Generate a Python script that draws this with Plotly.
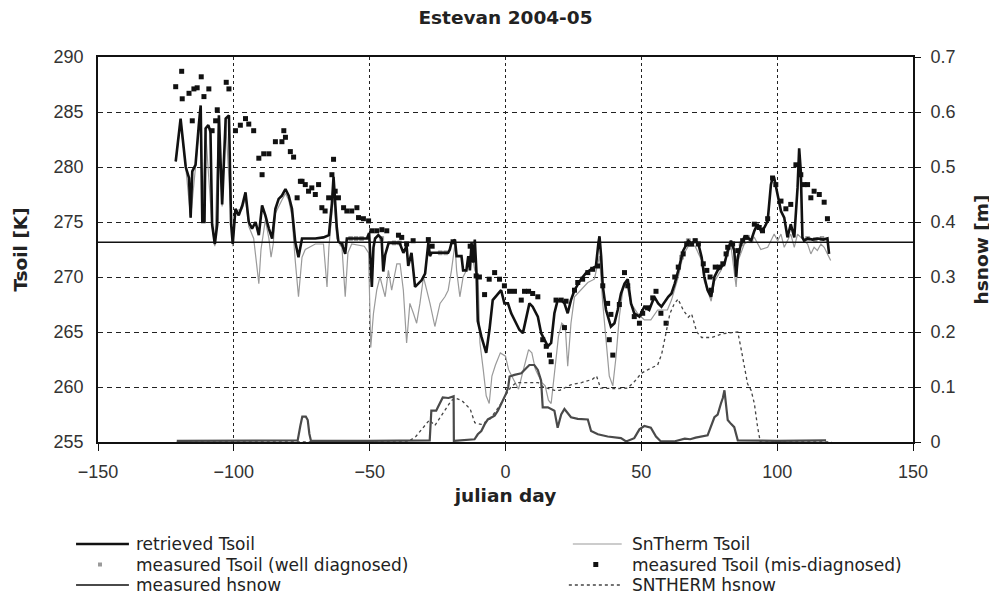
import plotly.graph_objects as go

# ---------------- data ----------------
retrieved_day = [-121.4,-120.5,-119.6,-119.0,-117.7,-116.5,-115.9,-115.3,-114.1,-112.9,-112.2,-111.6,-110.8,-110.4,-109.4,-108.6,-108.0,-107.0,-106.1,-105.5,-104.3,-103.0,-101.8,-101.0,-100.4,-99.4,-98.2,-96.9,-95.7,-94.5,-93.3,-92.0,-90.8,-89.6,-88.4,-87.1,-85.9,-84.7,-83.5,-82.3,-81.0,-79.8,-78.6,-77.4,-76.2,-74.9,-73.7,-70.0,-67.0,-65.0,-63.9,-63.3,-62.1,-61.5,-60.2,-59.0,-58.4,-55.0,-51.0,-50.2,-49.6,-49.2,-48.6,-48.0,-46.8,-45.6,-45.0,-44.3,-43.0,-39.0,-37.6,-36.4,-35.8,-34.6,-33.3,-32.1,-30.9,-29.6,-29.0,-28.4,-27.8,-27.2,-21.1,-20.5,-19.9,-18.6,-18.0,-16.2,-15.6,-14.4,-13.7,-13.1,-12.5,-11.9,-11.3,-10.6,-10.2,-8.9,-7.1,-5.9,-4.7,-2.8,-1.6,-0.4,0.9,2.1,3.3,5.1,6.4,7.6,8.8,10.0,11.9,13.1,14.3,15.6,16.8,18.0,19.2,20.5,21.7,22.9,24.1,25.4,27.8,29.7,31.5,33.3,34.2,34.6,35.2,35.8,37.0,38.8,40.1,41.3,42.5,43.8,45.0,46.2,47.4,49.3,51.1,52.9,54.8,56.2,57.4,59.9,61.1,62.3,63.6,64.8,65.4,66.7,67.3,68.5,69.8,71.0,72.2,73.2,74.4,75.7,76.9,78.1,79.3,80.6,81.8,83.0,84.2,84.9,85.5,86.7,87.9,89.1,90.4,91.6,92.8,94.0,95.3,96.5,97.7,98.3,98.9,100.2,101.4,102.6,103.8,105.0,106.3,107.5,108.1,108.7,109.3,109.9,111.2,113.0,115.0,117.0,118.5,119.1]
retrieved_T = [280.5,282.5,284.4,283.0,280.0,279.0,275.4,279.6,280.2,283.8,285.6,275.0,275.0,283.5,283.8,283.2,274.8,273.0,274.8,284.7,276.6,284.4,284.7,274.8,273.0,276.2,275.6,276.5,277.7,275.0,274.4,275.0,273.8,276.5,275.6,274.4,273.5,276.2,277.1,277.4,278.0,277.4,276.2,273.2,271.8,273.5,273.5,273.5,273.6,273.8,276.7,279.1,274.5,273.2,273.0,272.1,273.5,273.5,273.5,274.0,270.3,269.1,272.7,273.5,273.8,273.5,270.5,272.0,273.1,273.1,272.2,272.8,271.0,272.2,269.1,269.4,269.7,270.3,272.1,273.1,271.9,272.2,272.2,272.5,273.1,273.4,271.9,271.9,270.6,270.6,271.9,270.6,273.1,271.3,273.4,270.0,266.0,264.6,263.1,265.2,267.9,268.5,268.8,267.6,267.6,266.7,266.1,265.2,264.9,266.4,267.6,267.3,266.4,264.9,264.3,263.7,264.0,266.7,267.9,267.9,267.6,266.7,267.9,268.8,269.8,270.4,270.7,271.0,273.1,273.7,271.9,269.2,267.0,265.5,265.8,267.0,268.5,269.4,269.8,267.6,266.7,266.4,267.3,267.0,268.2,267.6,267.3,268.2,268.5,269.4,270.6,271.8,272.4,273.0,273.3,273.0,273.3,273.0,271.8,270.0,268.8,268.2,270.0,270.6,270.9,271.2,272.4,273.3,272.4,270.0,271.8,273.0,273.6,273.6,273.3,274.2,274.8,274.2,274.5,275.1,278.4,279.0,279.0,277.5,276.0,275.4,273.6,274.8,273.6,278.1,281.7,279.6,273.6,273.3,273.5,273.4,273.5,273.4,273.5,272.1]

sntherm_day = [-121.4,-119.6,-117.7,-115.9,-114.1,-112.2,-111.6,-110.4,-108.0,-107.0,-105.5,-104.3,-103.0,-101.0,-100.4,-99.4,-96.9,-95.7,-94.5,-92.7,-91.4,-90.8,-90.0,-88.4,-87.1,-86.3,-85.5,-84.7,-82.3,-81.0,-79.8,-78.6,-77.4,-76.2,-74.9,-73.7,-70.0,-67.0,-65.7,-65.0,-63.3,-62.1,-60.2,-59.0,-58.0,-56.6,-52.0,-50.4,-49.6,-48.6,-47.4,-46.2,-44.3,-43.1,-41.9,-40.0,-38.8,-37.6,-36.4,-35.2,-33.9,-32.7,-31.5,-30.2,-29.0,-27.8,-26.0,-24.1,-22.3,-21.1,-19.9,-18.6,-18.0,-16.8,-15.6,-14.4,-12.5,-11.3,-10.1,-9.4,-8.2,-7.1,-6.0,-5.0,-3.7,-1.9,0.0,1.1,2.3,3.5,4.8,6.0,7.2,8.5,9.7,11.0,12.2,13.4,14.6,15.8,16.8,18.3,19.5,20.7,22.0,22.9,24.1,25.4,27.8,30.3,32.7,34.6,35.8,37.0,38.2,39.5,40.7,41.9,43.2,44.4,46.2,48.6,51.1,53.5,56.0,59.6,61.1,63.6,65.4,67.3,69.8,72.2,73.2,75.7,76.9,79.3,81.8,83.0,84.9,85.5,87.9,91.6,94.0,96.5,97.7,98.9,100.2,101.4,102.6,103.8,105.0,106.3,107.5,108.7,111.2,112.4,113.6,114.8,116.1,117.3,118.5,119.7]
sntherm_T = [280.5,284.0,280.0,275.4,280.0,285.2,275.0,283.3,274.6,272.8,284.5,276.4,284.2,274.6,272.8,276.0,276.2,277.2,274.6,273.5,270.5,269.4,272.5,275.2,273.5,271.8,273.0,275.8,277.0,277.6,277.0,275.5,271.5,268.2,271.8,272.5,273.0,273.0,269.1,272.7,277.5,273.5,272.7,268.2,272.2,273.0,272.8,272.2,263.6,266.7,268.8,270.0,268.2,270.6,268.8,271.2,271.2,268.8,264.0,267.6,266.7,265.8,267.6,270.0,268.8,267.6,265.5,267.6,268.2,268.8,270.6,273.0,270.6,268.2,270.0,270.6,272.4,270.6,270.0,264.0,261.6,259.2,258.5,261.0,262.0,263.1,262.8,261.6,261.0,260.4,259.8,261.0,262.2,263.4,263.1,261.6,261.0,260.4,260.1,258.8,258.5,262.2,264.6,265.8,265.5,261.9,265.8,268.2,268.8,269.5,269.8,271.9,267.6,264.0,261.0,260.1,262.8,266.4,268.8,269.5,267.6,266.7,266.1,266.1,267.0,267.0,267.9,270.0,272.0,272.8,272.8,271.5,269.6,267.8,269.6,270.6,272.0,272.8,269.1,271.4,273.0,273.6,272.5,272.7,273.3,273.9,273.3,273.9,272.7,273.3,273.9,272.7,273.9,273.6,273.0,272.1,272.7,272.4,273.0,272.7,272.1,271.5]

well_day = [-60.2,-57.0,-55.0,-53.0,-45.6,-41.0,-39.0,-24.0,-22.0,64.8,67.3,70.0,86.7,89.1,90.4,111.2,114.0,116.5]
well_T = [273.0,273.5,273.5,273.5,273.5,273.1,273.1,272.2,272.2,271.8,273.3,273.3,273.0,273.6,273.3,273.5,273.4,273.5]

mis_day = [-121.4,-119.2,-119.0,-116.5,-115.3,-114.7,-113.5,-112.0,-111.0,-109.2,-108.0,-106.7,-106.1,-102.8,-101.8,-99.4,-97.6,-95.7,-94.5,-92.7,-90.8,-89.6,-89.0,-87.1,-84.7,-82.3,-81.6,-81.0,-79.2,-78.0,-76.7,-75.5,-74.9,-73.7,-72.5,-71.3,-70.0,-68.8,-67.6,-66.4,-65.1,-63.9,-63.3,-62.7,-61.5,-59.6,-58.4,-56.6,-54.7,-54.1,-52.3,-50.4,-49.2,-47.4,-45.5,-43.7,-39.4,-38.2,-36.4,-34.0,-28.4,-27.0,-19.3,-13.0,-10.8,-9.6,-7.7,-6.0,-4.0,-2.2,-0.4,1.5,3.3,5.8,7.0,8.5,10.0,11.9,13.7,15.0,16.2,16.8,18.6,20.5,21.7,22.3,25.4,26.6,28.4,30.3,32.1,33.9,35.8,37.6,38.2,38.8,39.5,41.9,43.8,45.0,47.4,49.3,50.5,52.3,54.2,55.4,57.2,59.1,62.3,63.6,65.4,66.7,68.5,69.8,71.0,72.8,74.1,75.3,75.7,77.2,78.7,80.0,81.2,81.8,83.6,85.5,87.3,88.5,91.6,93.4,94.6,96.5,98.3,99.5,101.4,103.2,105.0,106.9,108.7,109.9,111.2,112.4,113.6,115.5,117.3,118.5]
mis_T = [287.3,288.7,286.2,286.7,284.2,287.1,287.2,288.2,286.4,287.1,283.3,284.2,285.2,287.7,287.1,283.3,283.8,284.4,283.9,283.3,280.8,279.3,281.2,281.2,282.3,282.3,283.3,282.7,281.4,280.9,277.2,278.7,278.7,278.4,277.8,278.1,277.5,278.4,276.3,276.0,277.2,279.3,280.7,277.8,277.2,276.3,276.0,276.0,276.3,275.4,275.3,275.1,274.2,274.2,274.3,274.2,273.8,273.6,273.0,273.3,273.4,272.8,273.2,272.8,270.1,270.0,268.4,269.8,270.4,269.8,269.2,268.7,268.7,267.9,268.7,268.7,268.5,268.2,264.3,263.7,262.9,262.3,267.9,267.9,265.4,267.8,268.8,269.5,269.8,270.4,270.7,271.0,269.2,267.6,264.3,266.6,262.9,267.5,270.4,269.2,266.4,265.8,266.7,267.2,268.1,268.7,266.7,265.8,270.0,270.9,272.1,273.0,273.0,273.3,273.0,271.2,270.6,270.0,268.8,270.9,270.9,271.2,272.1,272.7,273.0,272.4,273.3,273.6,274.8,274.5,274.2,275.3,279.0,278.4,276.9,276.2,276.6,280.2,279.3,278.4,278.4,277.2,277.8,277.5,276.8,275.3]

hsnow_meas_day = [-121,-100,-80,-76.5,-75.5,-74.8,-73.5,-72.8,-72.2,-71.6,-50,-30,-27.9,-27.3,-25.5,-24.9,-23.7,-23.1,-21.0,-19.6,-19.1,-19.0,-12,-11.4,-10.2,-8.9,-7.7,-6.5,-4.0,-2.8,-1.6,0.2,1.0,1.5,3.3,5.8,7.6,8.8,10.6,11.9,13.1,13.7,15.6,18.0,19.2,20.5,21.7,24.1,26.6,30.3,31.5,34,37.6,42.5,44.4,47.4,49.3,51.1,53.5,55.4,57.2,62,66,68,70,72,74.4,76.9,78.1,79.3,80.0,80.6,81.2,81.8,83.0,84.2,85.5,100,118]
hsnow_meas = [0.002,0.002,0.002,0.003,0.03,0.046,0.046,0.04,0.015,0.002,0.002,0.002,0.003,0.057,0.057,0.063,0.075,0.081,0.08,0.083,0.083,0.002,0.004,0.005,0.014,0.02,0.032,0.041,0.048,0.057,0.069,0.088,0.1,0.119,0.122,0.125,0.134,0.14,0.14,0.131,0.112,0.063,0.063,0.057,0.026,0.05,0.06,0.045,0.042,0.041,0.02,0.014,0.01,0.007,0.001,0.007,0.023,0.029,0.026,0.01,0.001,0.001,0.006,0.005,0.008,0.01,0.012,0.045,0.05,0.07,0.08,0.094,0.06,0.04,0.033,0.027,0.003,0.002,0.003]

hsnow_sn_day = [-121,-36,-33,-30,-28,-26,-24,-22,-20,-18.5,-16,-13,-11.3,-9,-6,-3,-1,0,2,4,8,12,14,18,20,24,28,32,33.5,35,40,45,47.5,50,53,56,57.5,59,60.5,62,63.5,65.4,67.3,68.5,70.4,72.2,76,80,85.5,86.7,88,89.1,90.4,91.6,92.8,93.8,120]
hsnow_sn = [0.0,0.0,0.01,0.028,0.04,0.03,0.045,0.06,0.075,0.08,0.075,0.06,0.035,0.032,0.04,0.06,0.075,0.085,0.1,0.108,0.108,0.108,0.1,0.094,0.094,0.104,0.108,0.114,0.12,0.098,0.097,0.098,0.11,0.125,0.133,0.14,0.16,0.2,0.233,0.25,0.26,0.24,0.227,0.233,0.2,0.19,0.19,0.197,0.2,0.17,0.136,0.106,0.094,0.07,0.027,0.0,0.0]

T_FREEZE = 273.15
x_ticks = [-150, -100, -50, 0, 50, 100, 150]
y_ticks = [255, 260, 265, 270, 275, 280, 285, 290]
y2_ticks = [0, 0.1, 0.2, 0.3, 0.4, 0.5, 0.6, 0.7]
y2_ticktext = ["0", "0.1", "0.2", "0.3", "0.4", "0.5", "0.6", "0.7"]

# ---------------- layout geometry ----------------
# page body adds an 8 px offset; window-pixel plot box of the reference:
OFF = 8
PL, PR, PT, PB = 96, 913, 57, 442
W, H = 997, 610
ML, MT = PL - OFF, PT - OFF
MR = W - (PR - OFF)
MB = H - (PB - OFF)

TICK_FONT = dict(family="Liberation Sans, Arial, sans-serif", size=18, color="#333333")
BOLD_FONT = dict(family="DejaVu Sans, sans-serif", size=18.5, color="#222222", weight="bold")
LEG_FONT = dict(family="DejaVu Sans, sans-serif", size=17, color="#222222")

RET_LINE = dict(color="#111111", width=2.6)
SNT_LINE = dict(color="#9a9a9a", width=1.2)
HM_LINE = dict(color="#4a4a4a", width=2.2)
HS_LINE = dict(color="#444444", width=1.3, dash="dot")
MIS_MARK = dict(symbol="square", size=5, color="#111111")
WELL_MARK = dict(symbol="square", size=4, color="#9a9a9a", line=dict(color="#777777", width=0.5))

fig = go.Figure()
fig.add_trace(go.Scatter(x=hsnow_sn_day, y=hsnow_sn, mode="lines", line=HS_LINE,
                         name="SNTHERM hsnow", yaxis="y2", showlegend=False))
fig.add_trace(go.Scatter(x=hsnow_meas_day, y=hsnow_meas, mode="lines", line=HM_LINE,
                         name="measured hsnow", yaxis="y2", showlegend=False))
fig.add_trace(go.Scatter(x=sntherm_day, y=sntherm_T, mode="lines", line=SNT_LINE,
                         name="SnTherm Tsoil", showlegend=False))
fig.add_trace(go.Scatter(x=well_day, y=well_T, mode="markers", marker=WELL_MARK,
                         name="measured Tsoil (well diagnosed)", showlegend=False))
fig.add_trace(go.Scatter(x=retrieved_day, y=retrieved_T, mode="lines", line=RET_LINE,
                         name="retrieved Tsoil", showlegend=False))
fig.add_trace(go.Scatter(x=mis_day, y=mis_T, mode="markers", marker=MIS_MARK,
                         name="measured Tsoil (mis-diagnosed)", showlegend=False))

shapes = [dict(type="line", xref="paper", x0=0, x1=1, yref="y", y0=T_FREEZE, y1=T_FREEZE,
               line=dict(color="#111111", width=1.5))]
annotations = []


def px_x(p):
    return (p - PL) / (PR - PL)


def px_y(p):
    return (PB - p) / (PB - PT)


# manual legend (two columns, three rows)
legend_rows = [544, 564.5, 585]
legend_entries = [
    ("retrieved Tsoil", "line", RET_LINE, 74, 127, 132, 0),
    ("SnTherm Tsoil", "line", SNT_LINE, 572, 621, 629, 0),
    ("measured Tsoil (well diagnosed)", "marker", WELL_MARK, 98, 98, 132, 1),
    ("measured Tsoil (mis-diagnosed)", "marker", MIS_MARK, 595, 595, 629, 1),
    ("measured hsnow", "line", HM_LINE, 74, 127, 132, 2),
    ("SNTHERM hsnow", "line", HS_LINE, 568, 622, 629, 2),
]
for label, kind, style, s0, s1, tx, row in legend_entries:
    yy = legend_rows[row]
    if kind == "line":
        shapes.append(dict(type="line", xref="paper", yref="paper",
                           x0=px_x(s0), x1=px_x(s1), y0=px_y(yy), y1=px_y(yy),
                           line=dict(color=style["color"], width=style["width"],
                                     dash=style.get("dash", "solid"))))
    else:
        half = style["size"] / 2
        shapes.append(dict(type="rect", xref="paper", yref="paper",
                           x0=px_x(s0 - half), x1=px_x(s0 + half),
                           y0=px_y(yy + half), y1=px_y(yy - half),
                           fillcolor=style["color"], line=dict(width=0)))
    annotations.append(dict(text=label, xref="paper", yref="paper", x=px_x(tx), y=px_y(yy),
                            xanchor="left", yanchor="middle", showarrow=False, font=LEG_FONT))

fig.update_layout(
    width=W, height=H,
    margin=dict(l=ML, r=MR, t=MT, b=MB),
    paper_bgcolor="white", plot_bgcolor="white",
    showlegend=False,
    title=dict(text="Estevan 2004-05", x=0.5, xref="paper", xanchor="center",
               y=1 - (18 - OFF) / H, yref="container", yanchor="middle", font=BOLD_FONT),
    xaxis=dict(range=[-150, 150], tickvals=x_ticks, ticks="outside", ticklen=7, tickwidth=1.3,
               tickcolor="#111111", showline=True, linecolor="#111111", linewidth=1.6, mirror=True,
               showgrid=True, gridcolor="#222222", gridwidth=1.2, griddash="3px,3px",
               zeroline=False, tickfont=TICK_FONT, ticklabelstandoff=6,
               title=dict(text="julian day", font=BOLD_FONT, standoff=8)),
    yaxis=dict(range=[255, 290], tickvals=y_ticks, ticks="", showline=True,
               linecolor="#111111", linewidth=1.6,
               showgrid=True, gridcolor="#222222", gridwidth=1.2, griddash="5px,4px",
               zeroline=False, tickfont=TICK_FONT, ticklabelstandoff=9,
               title=dict(text="Tsoil [K]", font=BOLD_FONT, standoff=21)),
    yaxis2=dict(range=[0, 0.7], tickvals=y2_ticks, ticktext=y2_ticktext, overlaying="y",
                side="right", ticks="outside", ticklen=6, tickwidth=1.3, tickcolor="#111111",
                showline=True, linecolor="#111111", linewidth=1.6, showgrid=False,
                zeroline=False, tickfont=TICK_FONT, ticklabelstandoff=6,
                title=dict(text="hsnow [m]", font=BOLD_FONT, standoff=21)),
    shapes=shapes,
    annotations=annotations,
)

fig.write_html("out.html")
